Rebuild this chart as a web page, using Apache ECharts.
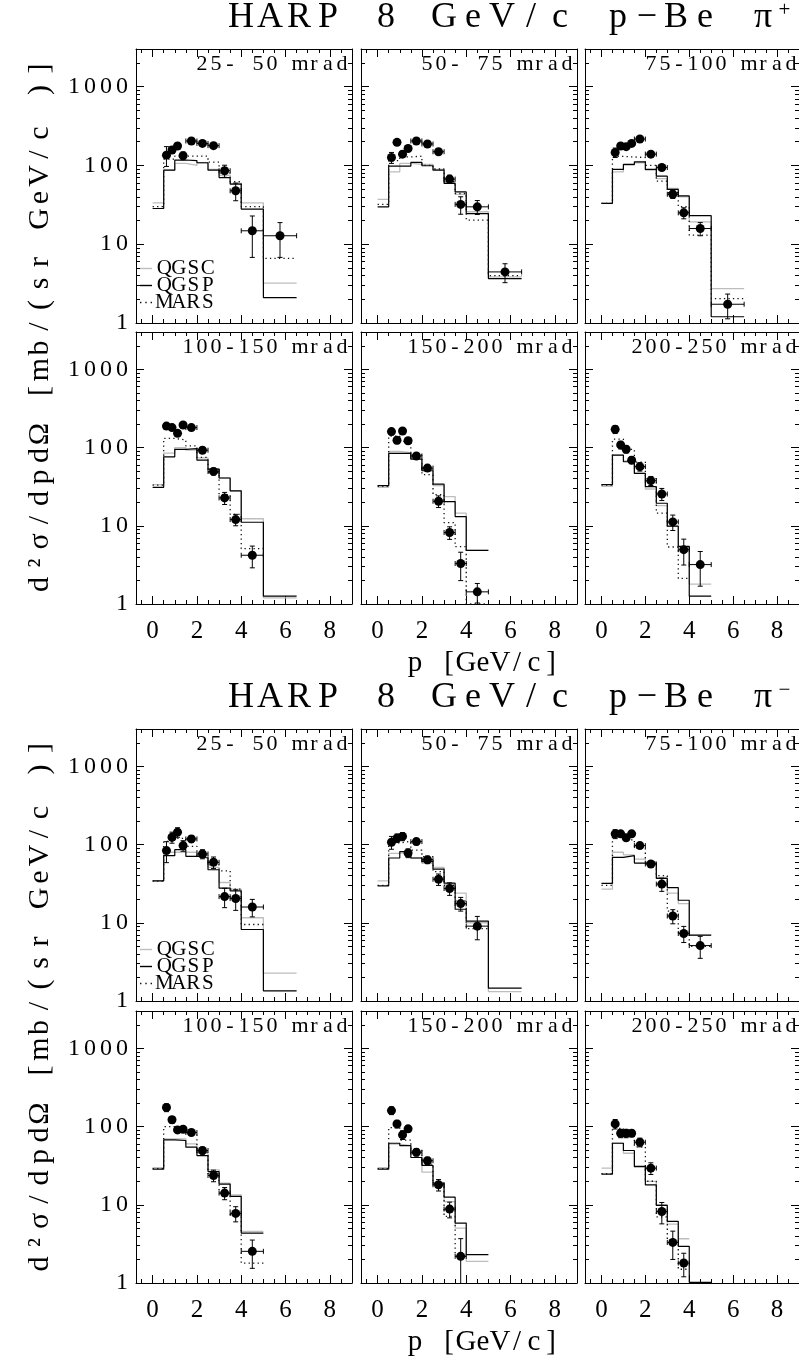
<!DOCTYPE html>
<html><head><meta charset="utf-8">
<script src="https://cdn.jsdelivr.net/npm/echarts@6/dist/echarts.min.js"></script>
<style>html,body{margin:0;padding:0;background:#fff}#c{width:799px;height:1368px}</style>
</head><body><div id="c"></div><script>
// ---------------- data ----------------
const pCentres = [0.625, 0.875, 1.125, 1.375, 1.75, 2.25, 2.75, 3.25, 3.75, 4.5, 5.75];
const pHalfWidths = [0.125, 0.125, 0.125, 0.125, 0.25, 0.25, 0.25, 0.25, 0.25, 0.5, 0.75];
const modelEdges = [0, 0.5, 1.0, 1.5, 2.0, 2.5, 3.0, 3.5, 4.0, 5.0, 6.5];
const angleBins = ['25- 50 mrad', '50- 75 mrad', '75-100 mrad', '100-150 mrad', '150-200 mrad', '200-250 mrad'];
const xTickLabels = [0, 2, 4, 6, 8];
const xMinorTicks = [-0.5, 0.5, 1, 1.5, 2.5, 3, 3.5, 4.5, 5, 5.5, 6.5, 7, 7.5, 8.5];
const yTickLabels = [1, 10, 100, 1000];
const yMinorTicks = [2, 3, 4, 5, 6, 7, 8, 9, 20, 30, 40, 50, 60, 70, 80, 90, 200, 300, 400, 500, 600, 700, 800, 900, 2000, 3000];
const modelNames = ['QGSC', 'QGSP', 'MARS'];

// pi+ : measured cross-sections per angular bin
const pipData = [
  [135, 157, 176, 133, 204, 190, 178, 85.5, 47.6, 14.8, 12.8],
  [126, 196, 139, 164, 204, 187, 149, 67, 32, 29.8, 4.45],
  [146, 176, 173, 190, 216, 139, 94, 43, 25, 15.8, 1.73],
  [188, 180, 152, 194, 180, 92.5, 49.5, 22.7, 12, 4.2],
  [160, 124, 163, 122, 78, 54.6, 20.6, 8.2, 3.29, 1.43],
  [171, 108, 95, 69, 57, 37.7, 25.5, 11.2, 4.95, 3.19]
];
const pipErr = [
  [38, 15, 15, 15, 10, 10, 10, 15, 12, 8, 6],
  [20, 15, 12, 12, 10, 10, 10, 8, 8, 6, 1.2],
  [20, 12, 10, 10, 10, 8, 8, 5, 4, 3, 0.6],
  [15, 12, 12, 12, 10, 8, 5, 4, 2, 1.3],
  [15, 12, 12, 10, 6, 5, 3.5, 1.5, 1.3, 0.4],
  [20, 12, 10, 7, 7, 5, 4.5, 2.5, 1.8, 1.5]
];
const pipQGSC = [
  [33.5, 87, 106, 100, 108, 89, 75, 59, 33.5, 3.2],
  [37, 83, 106, 103, 103, 89, 62, 43, 25.8, 3.84],
  [33, 83, 101, 108, 87, 68, 51, 40, 19.2, 2.73],
  [33.5, 85, 100, 92.5, 74, 53, 40.8, 28, 12.3, 1.2],
  [31, 89, 86, 73, 52.8, 32.6, 23.6, 14.5, 4.86],
  [31.9, 80, 67.6, 46.7, 29.5, 18.1, 9.8, 5.35, 1.8]
];
const pipQGSP = [
  [28.4, 87, 117, 115, 108, 87, 70, 58, 27.9, 2.1],
  [29.8, 98, 98, 109, 99, 87, 59, 46, 24.5, 3.66],
  [32.9, 89, 103, 111, 89, 73, 49.5, 41, 23, 1.2],
  [31, 76, 95, 97, 69, 53, 40.8, 28, 11.1, 1.26],
  [32.6, 84, 84.5, 71, 50.5, 34, 20.4, 13.1, 4.86],
  [33.5, 80, 65.8, 46.7, 31.6, 19.4, 9.9, 5.46, 1.26]
];
const pipMARS = [
  [30, 120, 131, 131, 131, 110, 80, 62, 30, 6.6],
  [32, 115, 128, 131, 100, 90, 62, 44, 20.2, 4.0],
  [33, 130, 128, 126, 100, 63, 45, 30, 13, 2.04],
  [33, 131, 125, 105, 75, 48, 25, 14, 5.1],
  [32, 140, 120, 80, 45, 25, 11, 5.4, 1.0],
  [33, 128, 95, 65, 40, 14.5, 5.35, 2.12]
];

// pi- : measured cross-sections per angular bin
const pimData = [
  [83.7, 124, 144, 97, 118, 75.8, 59.3, 21.6, 20.4, 15.9],
  [107, 121, 127, 78, 109, 64, 36, 27.4, 17.6, 9.06],
  [137, 137, 122, 137, 97, 56.4, 31.2, 12.2, 7.29, 5.11],
  [175, 122, 90.6, 92.4, 83.8, 49.4, 23.7, 14.1, 7.75, 2.54],
  [160, 108, 78.3, 93.4, 47, 36.5, 18, 8.8, 2.19],
  [108, 82, 82, 82, 63, 29.4, 8.2, 3.3, 1.8]
];
const pimErr = [
  [25, 20, 20, 15, 12, 10, 10, 6, 6, 4],
  [20, 15, 15, 10, 10, 7, 6, 5, 3.5, 3],
  [18, 12, 10, 10, 8, 5, 6, 2.5, 1.7, 1.6],
  [20, 12, 8, 8, 6, 5, 4, 2.5, 1.7, 1],
  [18, 12, 10, 8, 5, 4, 3, 2, 1.5],
  [15, 10, 10, 8, 8, 5, 2.5, 1.3, 0.6]
];
const pimQGSC = [
  [34.4, 79.7, 79.7, 79.7, 72, 51, 32.7, 26.9, 11.6, 2.27],
  [34.4, 77.3, 79.7, 67.3, 57.5, 51, 31, 23.9, 10, 1.32],
  [26.9, 79.7, 74, 65, 56, 38, 23.9, 17.6, 6.9],
  [29.9, 69.5, 69.5, 60, 45.6, 27.9, 18.9, 13.4, 4.56],
  [29.9, 59.6, 57.2, 45.6, 26.1, 18.4, 11, 5.04, 1.89],
  [29.4, 61.2, 45.6, 30, 19.9, 10, 5.67, 3.68]
];
const pimQGSP = [
  [34.4, 72, 86, 70.8, 67.3, 47.6, 27.7, 25.6, 8.2, 1.35],
  [29.7, 67.3, 81.3, 67.3, 60.4, 48.6, 32.1, 14.9, 10.5, 1.46],
  [31.8, 68.7, 72.1, 58, 58, 36.9, 28.2, 19.4, 6.94],
  [28.5, 67.6, 66.3, 54.5, 42.6, 26.6, 18.4, 12.8, 4.35],
  [28.5, 61.2, 57.2, 40.2, 31.8, 18.9, 12.5, 5.83, 2.3],
  [24.6, 61.2, 49.4, 30.9, 18, 9.8, 6.13, 2.94, 1.02]
];
const pimMARS = [
  [34, 110, 120, 95, 72, 55, 46, 27, 9.5],
  [30, 105, 110, 85, 70, 45, 30, 19, 8.4],
  [30, 125, 115, 90, 60, 40, 14.1, 7.5, 5],
  [29, 100, 92, 80, 47, 25, 14, 7.5, 1.8],
  [29, 97, 67, 50, 33, 17, 7.1, 2.2],
  [25, 95, 75, 55, 20, 7, 3.5, 1.5]
];

// ---------------- helpers ----------------
const serif = 'Liberation Serif';
function spaced(str, key) {
  return Array.from(str).map(ch => '{' + key + '|' + ch + '}').join('');
}
function histo(vals) {
  const d = vals.map((v, i) => [modelEdges[i], v]);
  d.push([modelEdges[vals.length], vals[vals.length - 1]]);
  return d;
}
function renderErr(params, api) {
  const x = api.value(0), y = api.value(1), hx = api.value(2), e = api.value(3);
  const lo = Math.max(y - e, 0.2);
  const c = api.coord([x, y]);
  const l = api.coord([x - hx, y]);
  const r = api.coord([x + hx, y]);
  const t = api.coord([x, y + e]);
  const b = api.coord([x, lo]);
  const st = { stroke: '#000', lineWidth: 1 };
  const ln = (x1, y1, x2, y2) => ({ type: 'line', shape: { x1, y1, x2, y2 }, style: st });
  return {
    type: 'group', children: [
      ln(l[0], c[1], r[0], c[1]),
      ln(l[0], c[1] - 2.5, l[0], c[1] + 2.5),
      ln(r[0], c[1] - 2.5, r[0], c[1] + 2.5),
      ln(c[0], t[1], c[0], b[1]),
      ln(c[0] - 2.5, t[1], c[0] + 2.5, t[1]),
      ln(c[0] - 2.5, b[1], c[0] + 2.5, b[1])
    ]
  };
}

const lefts = [136, 361, 585], W = 216;
const rowTops = [[49, 332], [729, 1011]];
const rowH = [[274, 272], [272, 272]];
const blocks = [
  { data: pipData, err: pipErr, models: [pipQGSC, pipQGSP, pipMARS], title: 'HARP 8 GeV/c p\u2212Be \u03c0', sign: '+' },
  { data: pimData, err: pimErr, models: [pimQGSC, pimQGSP, pimMARS], title: 'HARP 8 GeV/c p\u2212Be \u03c0', sign: '\u2212' }
];
const modelStyles = [
  { color: '#bdbdbd', width: 1.3, type: 'solid', z: 2 },
  { color: '#000000', width: 1.2, type: 'solid', z: 3 },
  { color: '#111111', width: 1.3, type: [1.3, 3.2], z: 3 }
];
const legendIcons = [
  'path://M0,0h12v1.4h-12z',
  'path://M0,0h12v1.4h-12z',
  'path://M0,0h1.4v1.4h-1.4z M5.3,0h1.4v1.4h-1.4z M10.6,0h1.4v1.4h-1.4z'
];

const tickLine = { color: '#000', width: 1 };
const xLabelRich = { n: { width: 16, align: 'center', fontSize: 25, fontFamily: serif, color: '#000' } };
const yLabelRich = { n: { width: 16, align: 'center', fontSize: 24, fontFamily: serif, color: '#000' } };

function xAxisDef(k, pos, ticks, len, showLine, showLabel) {
  return {
    gridIndex: k, type: 'value', min: -0.75, max: 9, position: pos,
    axisLine: { show: showLine, onZero: false, lineStyle: tickLine },
    axisTick: { show: true, inside: true, length: len, customValues: ticks, lineStyle: tickLine },
    axisLabel: { show: showLabel, customValues: xTickLabels, margin: 15, formatter: v => spaced(String(v), 'n'), rich: xLabelRich },
    splitLine: { show: false }
  };
}
function yAxisDef(k, pos, ticks, len, showLine, showLabel) {
  return {
    gridIndex: k, type: 'log', logBase: 10, min: 1, max: 3000, position: pos,
    axisLine: { show: showLine, onZero: false, lineStyle: tickLine },
    axisTick: { show: true, inside: true, length: len, customValues: ticks, lineStyle: tickLine },
    axisLabel: { show: showLabel, customValues: yTickLabels, margin: 6, formatter: v => spaced(String(Math.round(v)), 'n'), rich: yLabelRich },
    splitLine: { show: false }, minorTick: { show: false }
  };
}

const grids = [], xAxes = [], yAxes = [], series = [], graphics = [], legends = [];

blocks.forEach((B, b) => {
  for (let r = 0; r < 2; r++) {
    for (let c = 0; c < 3; c++) {
      const a = r * 3 + c;
      const k = grids.length;
      const top = rowTops[b][r], H = rowH[b][r], left = lefts[c];
      grids.push({ left: left, top: top, width: W, height: H, containLabel: false });
      xAxes.push(xAxisDef(k, 'bottom', xMinorTicks, 4, true, r === 1));
      xAxes.push(xAxisDef(k, 'bottom', xTickLabels, 8, false, false));
      xAxes.push(xAxisDef(k, 'top', xMinorTicks, 4, true, false));
      xAxes.push(xAxisDef(k, 'top', xTickLabels, 8, false, false));
      yAxes.push(yAxisDef(k, 'left', yMinorTicks, 4, true, c === 0));
      yAxes.push(yAxisDef(k, 'left', yTickLabels, 8, false, false));
      yAxes.push(yAxisDef(k, 'right', yMinorTicks, 4, true, false));
      yAxes.push(yAxisDef(k, 'right', yTickLabels, 8, false, false));
      const xi = 4 * k, yi = 4 * k;

      B.models.forEach((M, m) => {
        const s = modelStyles[m];
        series.push({
          type: 'line', name: modelNames[m], xAxisIndex: xi, yAxisIndex: yi,
          step: 'end', symbol: 'none', showSymbol: false, data: histo(M[a]),
          lineStyle: { color: s.color, width: s.width, type: s.type },
          itemStyle: { color: s.color }, z: s.z, silent: true, animation: false
        });
      });
      const pts = B.data[a].map((v, i) => [pCentres[i], v, pHalfWidths[i], B.err[a][i]]);
      series.push({
        type: 'custom', xAxisIndex: xi, yAxisIndex: yi, renderItem: renderErr,
        data: pts, clip: true, z: 4, silent: true, animation: false,
        encode: { x: 0, y: 1 }
      });
      series.push({
        type: 'scatter', xAxisIndex: xi, yAxisIndex: yi, symbol: 'circle', symbolSize: 9,
        data: pts.map(p => [p[0], p[1]]), itemStyle: { color: '#000', opacity: 1 }, z: 5, silent: true, animation: false
      });

      graphics.push({
        type: 'text', x: left + W - 3, y: top + 15, z: 20,
        style: {
          text: spaced(angleBins[a], 'p'), align: 'right', textAlign: 'right', verticalAlign: 'middle', textVerticalAlign: 'middle',
          rich: { p: { width: 14, align: 'center', fontSize: 22, fontFamily: serif, fill: '#000' } }
        }
      });
    }
  }
  const blockTop = rowTops[b][0], blockBottom = rowTops[b][1] + rowH[b][1];
  // block title
  graphics.push({
    type: 'text', x: 509, y: blockTop - 31, z: 20,
    style: {
      text: spaced(B.title, 't') + '{s|' + B.sign + '}', align: 'center', textAlign: 'center', verticalAlign: 'middle', textVerticalAlign: 'middle',
      rich: {
        t: { width: 29, align: 'center', fontSize: 36, fontFamily: serif, fill: '#000' },
        s: { width: 14, align: 'center', fontSize: 21, fontFamily: serif, fill: '#000', verticalAlign: 'top' }
      }
    }
  });
  // y axis title
  graphics.push({
    type: 'text', x: 40, y: (blockTop + blockBottom) / 2, rotation: Math.PI / 2, z: 20,
    style: {
      text: spaced('d\u00b2\u03c3/dpd\u03a9 [mb/(sr GeV/c )]', 'y'), align: 'center', textAlign: 'center', verticalAlign: 'middle', textVerticalAlign: 'middle',
      rich: { y: { width: 21.5, align: 'center', fontSize: 30, fontFamily: serif, fill: '#000' } }
    }
  });
  // x axis title
  graphics.push({
    type: 'text', x: 483, y: blockBottom + 59, z: 20,
    style: {
      text: spaced('p [GeV/c]', 'x'), align: 'center', textAlign: 'center', verticalAlign: 'middle', textVerticalAlign: 'middle',
      rich: { x: { width: 17, align: 'center', fontSize: 29, fontFamily: serif, fill: '#000' } }
    }
  });
  legends.push({
    orient: 'vertical', left: 140, top: rowTops[b][0] + (b === 0 ? 209 : 210),
    itemWidth: 12, itemHeight: 10, itemGap: -4, padding: 0, symbolKeepAspect: true,
    selectedMode: false,
    data: modelNames.map((n, i) => ({ name: n, icon: legendIcons[i] })),
    formatter: n => spaced(n, 'l'),
    textStyle: { rich: { l: { width: 14.5, align: 'center', fontSize: 21, lineHeight: 14, fontFamily: serif, color: '#000' } } }
  });
});

const chart = echarts.init(document.getElementById('c'), null, { renderer: 'canvas', width: 799, height: 1368 });
chart.setOption({
  animation: false,
  backgroundColor: '#fff',
  grid: grids, xAxis: xAxes, yAxis: yAxes, series: series,
  legend: legends, graphic: graphics
});
</script></body></html>
